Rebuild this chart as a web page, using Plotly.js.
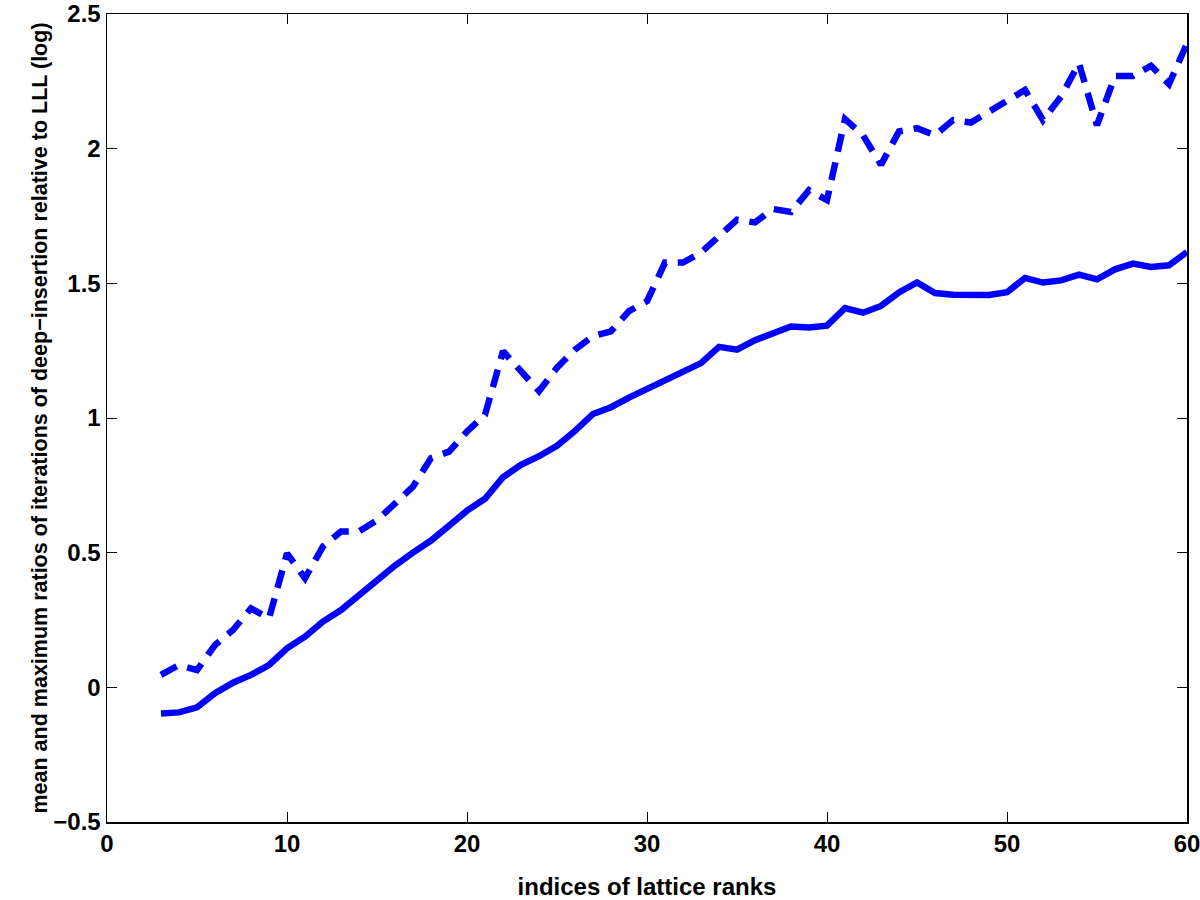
<!DOCTYPE html>
<html>
<head>
<meta charset="utf-8">
<script src="https://cdn.plot.ly/plotly-3.0.1.min.js"></script>
<style>html,body{margin:0;padding:0;background:#fff;}#chart{width:1200px;height:900px;}</style>
</head>
<body>
<div id="chart"></div>
<script>
const ranks = [3,4,5,6,7,8,9,10,11,12,13,14,15,16,17,18,19,20,21,22,23,24,25,26,27,28,29,30,31,32,33,34,35,36,37,38,39,40,41,42,43,44,45,46,47,48,49,50,51,52,53,54,55,56,57,58,59,60];
const meanRatio = [-0.097,-0.093,-0.074,-0.022,0.017,0.046,0.083,0.145,0.188,0.244,0.287,0.343,0.393,0.452,0.50,0.545,0.60,0.656,0.70,0.78,0.826,0.858,0.897,0.952,1.015,1.04,1.076,1.108,1.14,1.177,1.204,1.264,1.254,1.289,1.313,1.34,1.336,1.343,1.408,1.391,1.416,1.466,1.503,1.464,1.458,1.46,1.457,1.467,1.52,1.503,1.511,1.532,1.515,1.552,1.573,1.561,1.567,1.616];
const maxRatio = [0.046,0.083,0.064,0.157,0.213,0.293,0.256,0.497,0.405,0.523,0.579,0.579,0.62,0.679,0.745,0.851,0.875,0.95,1.012,1.248,1.174,1.1,1.187,1.254,1.304,1.322,1.397,1.434,1.577,1.577,1.614,1.676,1.736,1.726,1.776,1.765,1.846,1.809,2.11,2.05,1.94,2.064,2.076,2.05,2.106,2.097,2.137,2.175,2.218,2.106,2.193,2.317,2.087,2.27,2.27,2.308,2.24,2.39];
const xTickVals = [0,10,20,30,40,50,60];
const yTickVals = [-0.5,0,0.5,1,1.5,2,2.5];
const yTickText = ['\u22120.5','0','0.5','1','1.5','2','2.5'];

const traces = [
  {x: ranks, y: meanRatio, type: 'scatter', mode: 'lines', name: 'mean',
   line: {color: '#0000ff', width: 6.5}},
  {x: ranks, y: maxRatio, type: 'scatter', mode: 'lines', name: 'maximum',
   line: {color: '#0000ff', width: 6.5, dash: '18px,11px'}}
];

const tickFont = {family: 'Liberation Sans, Arial, sans-serif', size: 24, color: '#000', weight: 'bold'};
const xTitleFont = {family: 'Liberation Sans, Arial, sans-serif', size: 24, color: '#000', weight: 'bold'};
const yTitleFont = {family: 'Liberation Sans, Arial, sans-serif', size: 21.5, color: '#000', weight: 'bold'};

const layout = {
  width: 1200, height: 900,
  margin: {l: 107, r: 13, t: 14, b: 78},
  paper_bgcolor: '#fff', plot_bgcolor: '#fff',
  showlegend: false,
  xaxis: {
    range: [0, 60], tickvals: xTickVals, ticktext: xTickVals.map(String),
    ticks: 'inside', ticklen: 10, tickwidth: 1, tickcolor: '#000',
    showline: true, linecolor: '#000', linewidth: 1.5, mirror: 'ticks',
    showgrid: false, zeroline: false, tickfont: tickFont, ticklabeloverflow: 'allow',
    title: {text: 'indices of lattice ranks', font: xTitleFont, standoff: 22}
  },
  yaxis: {
    range: [-0.5, 2.5], tickvals: yTickVals, ticktext: yTickText,
    ticks: 'inside', ticklen: 10, tickwidth: 1, tickcolor: '#000',
    showline: true, linecolor: '#000', linewidth: 1.5, mirror: 'ticks',
    showgrid: false, zeroline: false, tickfont: tickFont, ticklabeloverflow: 'allow',
    title: {text: 'mean and maximum ratios of iterations of deep\u2212insertion relative to LLL (log)', font: yTitleFont, standoff: 0}
  }
};

Plotly.newPlot('chart', traces, layout, {displayModeBar: false, staticPlot: true});
</script>
</body>
</html>
